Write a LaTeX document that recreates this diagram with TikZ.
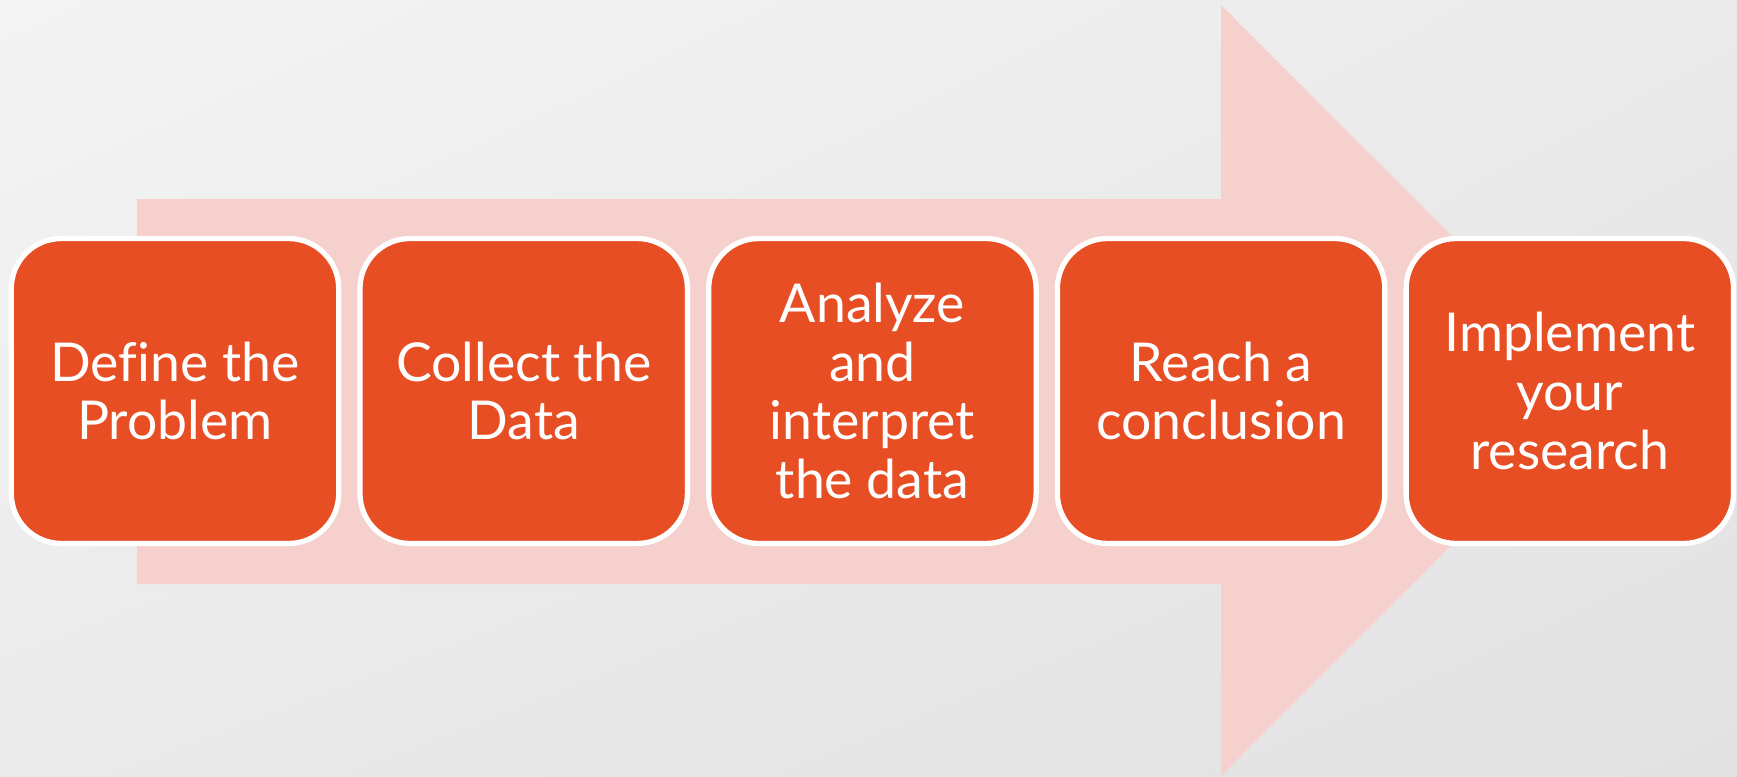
\documentclass[tikz,border=0pt]{standalone}
\usepackage{fontspec}
\setmainfont{Lato}[Ligatures=NoCommon]
\usetikzlibrary{positioning}
\usetikzlibrary{shadings}
\definecolor{stepfill}{RGB}{232,78,36}
\definecolor{arrowpink}{RGB}{245,208,204}
\definecolor{bglight}{RGB}{244,244,244}
\definecolor{bgmid}{RGB}{234,234,234}
\definecolor{bgdark}{RGB}{226,226,226}

\tikzset{
  stepbox/.style={rectangle, rounded corners=1cm, fill=stepfill, draw=white,
    line width=3pt, minimum width=6.55cm, minimum height=6.1cm,
    text=white, align=center, font=\fontsize{30.5}{33.5}\selectfont}
}

\begin{document}
\begin{tikzpicture}[x=0.02cm, y=-0.02cm]
      % background
      \shade[upper left=bglight, upper right=bgmid, lower left=bgmid, lower right=bgdark]
        (0, 0) rectangle (1737, 777);
      \useasboundingbox (0, 0) rectangle (1737, 777);

      % big arrow
      \coordinate (T1) at (137, 199);
      \coordinate (T2) at (1221, 199);
      \coordinate (H1) at (1221, 5);
      \coordinate (Tip) at (1606, 390.5);
      \coordinate (H2) at (1221, 776);
      \coordinate (B2) at (1221, 584);
      \coordinate (B1) at (137, 584);
      \fill[arrowpink] (T1) -- (T2) -- (H1) -- (Tip) -- (H2) -- (B2) -- (B1) -- cycle;

      % steps
      \node[stepbox] (define) at (175, 391) {Define the\\Problem};
      \node[stepbox, right=0.32cm of define] (collect) {Collect the\\Data};
      \node[stepbox, right=0.32cm of collect] (analyze) {Analyze\\and\\interpret\\the data};
      \node[stepbox, right=0.32cm of analyze] (reach) {Reach a\\conclusion};
      \node[stepbox, right=0.32cm of reach] (implement) {Implement\\your\\research};
    \end{tikzpicture}
\end{document}
